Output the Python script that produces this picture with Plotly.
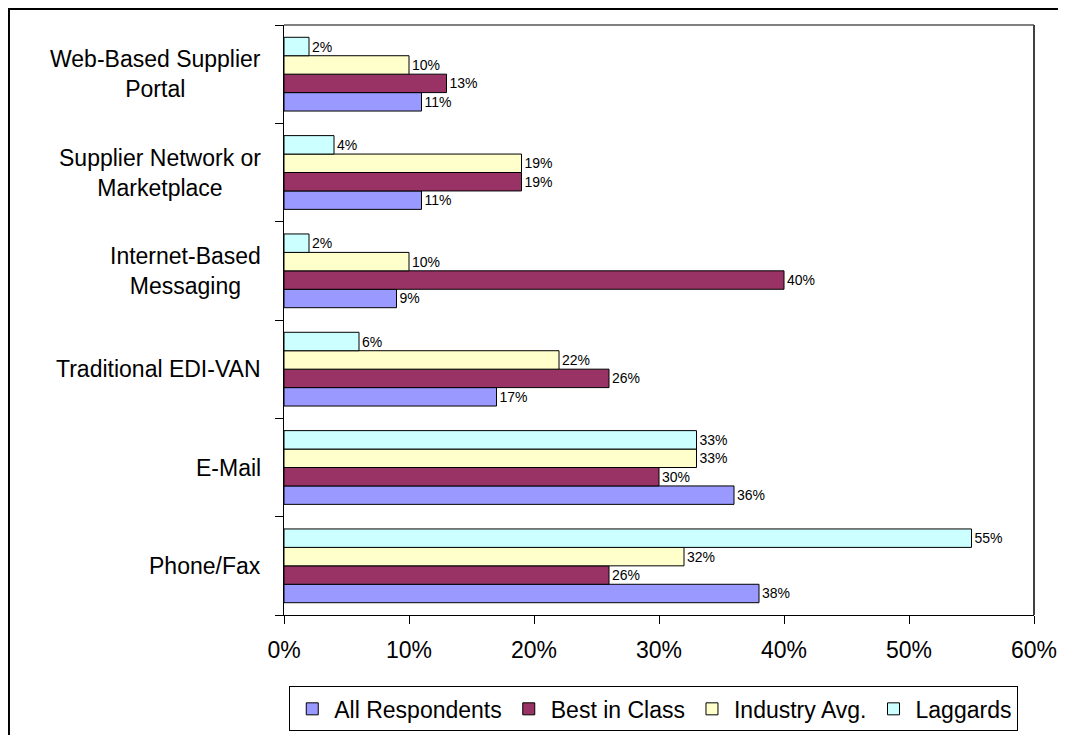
import plotly.graph_objects as go

# categories listed bottom to top, as plotly draws them
categories = ["Phone/Fax", "E-Mail", "Traditional EDI-VAN",
              "Internet-Based Messaging", "Supplier Network or Marketplace",
              "Web-Based Supplier Portal"]
category_labels = ["Phone/Fax", "E-Mail", "Traditional EDI-VAN",
                   "Internet-Based<br>Messaging", "Supplier Network or<br>Marketplace",
                   "Web-Based Supplier<br>Portal"]

all_respondents = [38, 36, 17, 9, 11, 11]
best_in_class = [26, 30, 26, 40, 19, 13]
industry_avg = [32, 33, 22, 10, 19, 10]
laggards = [55, 33, 6, 2, 4, 2]

series = [
    ("All Respondents", all_respondents, "#9999FF"),
    ("Best in Class", best_in_class, "#993366"),
    ("Industry Avg.", industry_avg, "#FFFFCC"),
    ("Laggards", laggards, "#CCFFFF"),
]

font_family = "Arial, Liberation Sans, sans-serif"
big = 23

fig = go.Figure()
for name, vals, color in series:
    fig.add_trace(
        go.Bar(
            y=categories,
            x=vals,
            orientation="h",
            name=name,
            marker=dict(color=color, line=dict(color="black", width=1)),
            text=[f"{v}%" for v in vals],
            textposition="outside",
            textfont=dict(size=14, color="black", family=font_family),
            constraintext="none",
            cliponaxis=False,
        )
    )

# category labels, block right aligned, lines centred (Excel style)
for cat, lab in zip(categories, category_labels):
    fig.add_annotation(
        x=-0.028, xref="paper", xanchor="right",
        y=cat, yref="y",
        text=lab, align="center", showarrow=False,
        font=dict(size=big, color="black", family=font_family),
    )

# plot area border (top/right) and outer chart border
fig.add_shape(type="line", xref="paper", yref="paper", x0=0, x1=1, y0=1, y1=1,
              line=dict(color="#808080", width=2))
fig.add_shape(type="line", xref="paper", yref="paper", x0=1, x1=1, y0=0, y1=1,
              line=dict(color="#404040", width=2))
fig.add_shape(type="rect", xref="paper", yref="paper", x0=-0.3667, x1=1.2, y0=-0.4, y1=1.027,
              line=dict(color="black", width=2), layer="below")

fig.update_layout(
    width=1066,
    height=735,
    barmode="group",
    bargap=0.25,
    bargroupgap=0,
    plot_bgcolor="white",
    paper_bgcolor="white",
    font=dict(family=font_family, color="black", size=big),
    margin=dict(l=276, r=40, t=17, b=123, pad=0),
    xaxis=dict(
        range=[0, 60],
        dtick=10,
        ticksuffix="%",
        showgrid=False,
        zeroline=False,
        showline=True,
        linecolor="black",
        linewidth=1,
        ticks="outside",
        ticklen=8,
        tickcolor="black",
        ticklabelstandoff=6,
        tickfont=dict(size=big, family=font_family, color="black"),
    ),
    yaxis=dict(
        type="category",
        categoryorder="array",
        categoryarray=categories,
        showticklabels=False,
        tickson="boundaries",
        ticks="outside",
        ticklen=8,
        tickcolor="black",
        showline=True,
        linecolor="black",
        linewidth=1,
        showgrid=False,
    ),
    legend=dict(
        orientation="h",
        x=0.007, xanchor="left",
        y=-0.121, yanchor="top",
        bordercolor="black",
        borderwidth=1,
        font=dict(size=big, family=font_family, color="black"),
        traceorder="normal",
        itemclick=False,
        itemwidth=34,
    ),
    showlegend=True,
)

fig.write_html("out.html")
